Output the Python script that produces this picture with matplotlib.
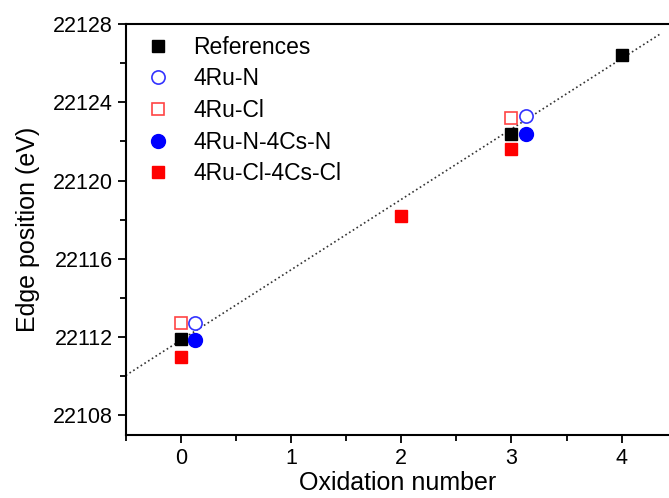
import numpy as np
import matplotlib
matplotlib.use('Agg')
import matplotlib.pyplot as plt
from matplotlib.ticker import MultipleLocator

plt.rcParams['font.family'] = ['Liberation Sans', 'DejaVu Sans']

# data
ref_x = [0, 3, 4]
ref_y = [22111.9, 22122.4, 22126.4]
ruN_x = [0.13, 3.13]
ruN_y = [22112.7, 22123.3]
ruCl_x = [0, 3]
ruCl_y = [22112.7, 22123.2]
ruNcs_x = [0.13, 3.13]
ruNcs_y = [22111.85, 22122.4]
ruClcs_x = [0, 2, 3]
ruClcs_y = [22111.0, 22118.2, 22121.6]

fig = plt.figure(figsize=(6.69, 4.98), dpi=100)
ax = fig.add_axes([0.188, 0.1265, 0.812, 0.8255])

# dotted linear fit through the references
k, b = np.polyfit(ref_x, ref_y, 1)
fx = np.array([-0.5, 4.35])
ax.plot(fx, k * fx + b, ':', color='#333333', lw=1.2, zorder=1)

ms = 8.5
ax.plot(ref_x, ref_y, 's', color='black', ms=ms, ls='none', label='References', zorder=3)
ax.plot(ruN_x, ruN_y, 'o', mfc='white', mec='#3333ff', mew=1.2, ms=ms + 1, ls='none', label='4Ru-N', zorder=3)
ax.plot(ruCl_x, ruCl_y, 's', mfc='white', mec='#ff4444', mew=1.2, ms=ms, ls='none', label='4Ru-Cl', zorder=3)
ax.plot(ruNcs_x, ruNcs_y, 'o', color='#0000ff', ms=ms + 1.5, ls='none', label='4Ru-N-4Cs-N', zorder=3)
ax.plot(ruClcs_x, ruClcs_y, 's', color='#ff0000', ms=ms, ls='none', label='4Ru-Cl-4Cs-Cl', zorder=3)

ax.set_xlim(-0.5, 4.43)
ax.set_ylim(22107, 22128)
ax.xaxis.set_major_locator(MultipleLocator(1))
ax.xaxis.set_minor_locator(MultipleLocator(0.5))
ax.yaxis.set_major_locator(MultipleLocator(4))
ax.yaxis.set_minor_locator(MultipleLocator(2))
ax.tick_params(which='both', direction='out', width=1.3, labelsize=15.5)
ax.tick_params(which='major', length=6)
ax.tick_params(which='minor', length=4)
ax.tick_params(axis='x', top=False)
ax.tick_params(axis='y', right=False)
ax.yaxis.get_major_formatter().set_useOffset(False)
for s in ['left', 'bottom', 'top']:
    ax.spines[s].set_linewidth(1.5)
ax.spines['right'].set_visible(False)

ax.set_xlabel('Oxidation number', fontsize=18, labelpad=1)
ax.set_ylabel('Edge position (eV)', fontsize=18, labelpad=9)

ax.legend(loc='upper left', frameon=False, fontsize=16.5, handletextpad=0.75,
          labelspacing=0.38, borderaxespad=0.2, handlelength=1.6,
          bbox_to_anchor=(0.0, 1.005))

fig.savefig('out.png', dpi=100)
